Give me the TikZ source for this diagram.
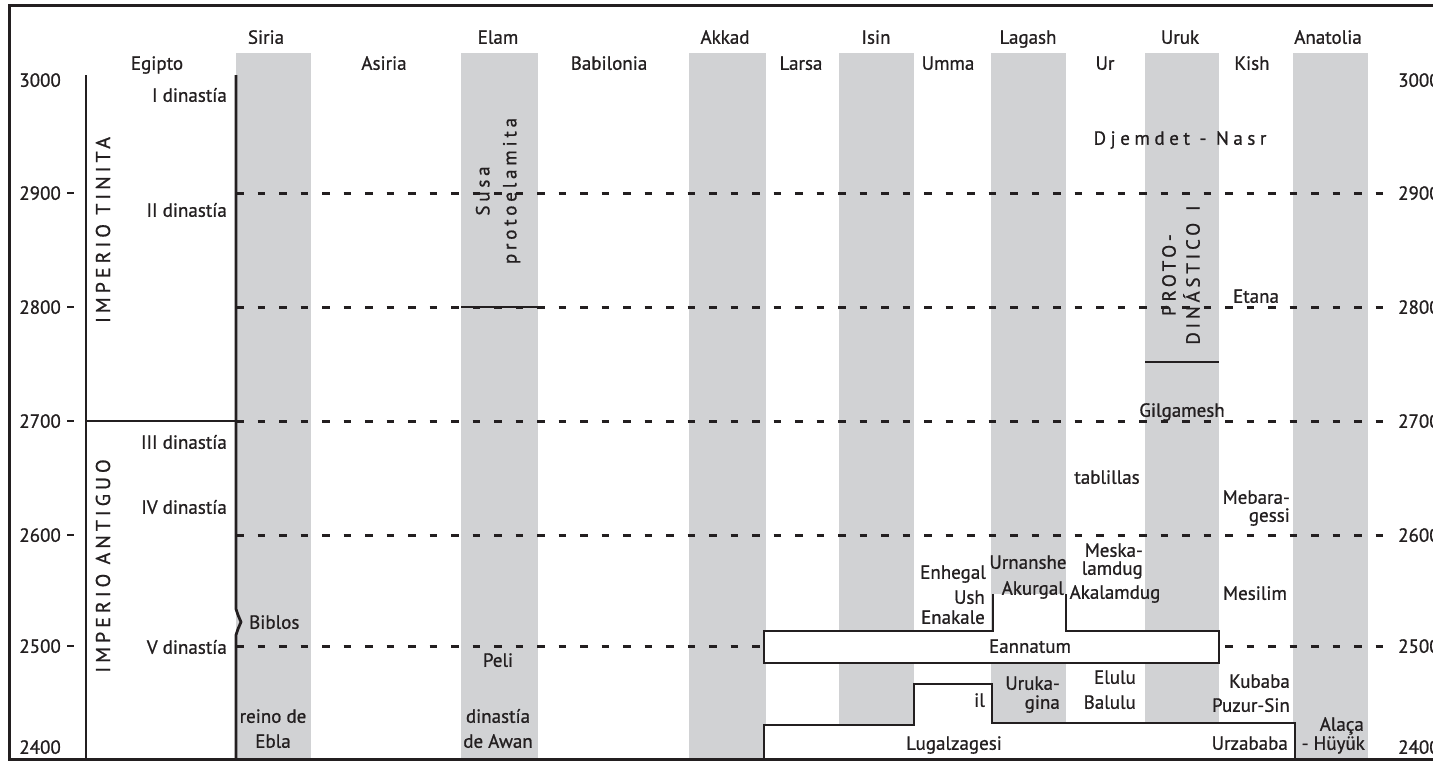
\documentclass[tikz,border=0pt]{standalone}
\usepackage{fontspec}
\setmainfont[FakeBold=0.9]{PT Sans}
\definecolor{colgray}{HTML}{D1D2D4}
\definecolor{ink}{HTML}{231F20}
\begin{document}
\begin{tikzpicture}[x=1pt,y=-1pt,
  lbl/.style={font=\fontsize{19}{21}\selectfont, text=ink, inner sep=0pt, text height=13.5pt, text depth=0pt},
  spaced/.style={font=\fontsize{19}{24}\selectfont\addfontfeature{LetterSpace=20}, text=ink, inner sep=0pt, align=center},
  solidline/.style={draw=ink, line width=2.8pt},
  dashline/.style={draw=ink, line width=3pt, dash pattern=on 7.5pt off 14pt},
  boxline/.style={draw=ink, line width=2.6pt, line join=miter},
  ticklbl/.style={font=\fontsize{19}{21}\selectfont, text=ink, inner sep=0pt, text height=13.5pt, text depth=0pt}
]
\useasboundingbox (0,0) rectangle (1433,761);
\fill[white] (0,0) rectangle (1433,761);
% gray columns
\foreach \a/\b in {236/311, 461/538, 689/766, 839/914, 991/1066, 1145/1219, 1293/1368}
  \fill[colgray] (\a,53) rectangle (\b,759);
% dashed year lines
\foreach \y in {193,307,421,535,646} {
  \draw[dashline] (236,\y) -- (1383,\y);
  \draw[solidline] (67,\y) -- (74,\y);
}
% frame
\draw[ink, line width=3pt] (1445,5) -- (9,5) -- (9,759) -- (1445,759);
% Egypt structure
\draw[solidline] (86,75) -- (86,759);
\draw[solidline, line join=round] (236,75) -- (236,609) -- (238,615) -- (241,622) -- (238,629) -- (236,635) -- (236,759);
\draw[solidline] (86,421) -- (236,421);
% Elam and Uruk boundaries
\draw[solidline] (461,307) -- (542,307);
\draw[solidline] (1145,362) -- (1219,362);
% Eannatum shape
\fill[white] (993,594) -- (993,631) -- (764,631) -- (764,663) -- (1219,663) -- (1219,631) -- (1066,631) -- (1066,594) -- cycle;
\draw[boxline] (993,594) -- (993,631) -- (764,631) -- (764,663) -- (1219,663) -- (1219,631) -- (1066,631) -- (1066,594);
% Lugalzagesi shape
\fill[white] (764,759) -- (764,725) -- (914,725) -- (914,684) -- (992,684) -- (992,723) -- (1295,723) -- (1295,759) -- cycle;
\draw[boxline] (764,759) -- (764,725) -- (914,725) -- (914,684) -- (992,684) -- (992,723) -- (1295,723) -- (1295,759);
\draw[ink, line width=3pt] (700,759) -- (1445,759);

% year labels left
\node[ticklbl, anchor=east] (l3000) at (61,80) {3000};
\node[ticklbl, anchor=east] (l2900) at (61,193) {2900};
\node[ticklbl, anchor=east] (l2800) at (61,307) {2800};
\node[ticklbl, anchor=east] (l2700) at (61,421) {2700};
\node[ticklbl, anchor=east] (l2600) at (61,535) {2600};
\node[ticklbl, anchor=east] (l2500) at (61,646) {2500};
\node[ticklbl, anchor=east] (l2400) at (61,747) {2400};
% year labels right
\node[ticklbl, anchor=west] (r3000) at (1398,80) {3000};
\node[ticklbl, anchor=west] (r2900) at (1398,193) {2900};
\node[ticklbl, anchor=west] (r2800) at (1398,307) {2800};
\node[ticklbl, anchor=west] (r2700) at (1398,421) {2700};
\node[ticklbl, anchor=west] (r2600) at (1398,535) {2600};
\node[ticklbl, anchor=west] (r2500) at (1398,646) {2500};
\node[ticklbl, anchor=west] (r2400) at (1398,747) {2400};

% column headers
\node[lbl] (siria) at (266,37) {Siria};
\node[lbl] (elam) at (498,37) {Elam};
\node[lbl] (akkad) at (725,37) {Akkad};
\node[lbl] (isin) at (876,37) {Isin};
\node[lbl] (lagash) at (1028,37) {Lagash};
\node[lbl] (uruk) at (1180,37) {Uruk};
\node[lbl] (anatolia) at (1328,37) {Anatolia};
\node[lbl] (egipto) at (157,63) {Egipto};
\node[lbl] (asiria) at (384,63) {Asiria};
\node[lbl] (babilonia) at (609,63) {Babilonia};
\node[lbl] (larsa) at (801,63) {Larsa};
\node[lbl] (umma) at (948,63) {Umma};
\node[lbl] (ur) at (1105,63) {Ur};
\node[lbl] (kish) at (1252,63) {Kish};

% Egypt
\node[spaced, font=\fontsize{20}{24}\selectfont\addfontfeature{LetterSpace=20}, rotate=90] (tinita) at (103,230) {IMPERIO TINITA};
\node[spaced, font=\fontsize{20}{24}\selectfont\addfontfeature{LetterSpace=20}, rotate=90] (antiguo) at (103,566) {IMPERIO ANTIGUO};
\node[lbl, anchor=east] (d1) at (227,95) {I dinastía};
\node[lbl, anchor=east] (d2) at (227,210) {II dinastía};
\node[lbl, anchor=east] (d3) at (227,442) {III dinastía};
\node[lbl, anchor=east] (d4) at (227,507) {IV dinastía};
\node[lbl, anchor=east] (d5) at (227,647) {V dinastía};

% Siria
\node[lbl, anchor=west] (biblos) at (249,622) {Biblos};
\node[lbl] (reino) at (273,716) {reino de};
\node[lbl] (ebla) at (273,741) {Ebla};

% Elam
\node[spaced, font=\fontsize{19}{27}\selectfont\addfontfeature{LetterSpace=20}, rotate=90] (susa) at (498,191) {Susa\\protoelamita};
\node[lbl] (peli) at (498,660) {Peli};
\node[lbl] (dinawan) at (498,716) {dinastía};
\node[lbl] (awan) at (498,741) {de Awan};

% Uruk / Kish area
\node[spaced, font=\fontsize{19}{24}\selectfont\addfontfeature{LetterSpace=24}] (djemdet) at (1180,140) {Djemdet - Nasr};
\node[spaced, rotate=90] (proto) at (1181,275) {PROTO-\\DINÁSTICO\hspace{3pt} I};
\node[lbl] (etana) at (1256,296) {Etana};
\node[lbl] (gilga) at (1182,410) {Gilgamesh};
\node[lbl] (tablillas) at (1107,477) {tablillas};
\node[lbl, anchor=east] (mebara) at (1290,497) {Mebara-};
\node[lbl, anchor=east] (gessi) at (1290,515) {gessi};
\node[lbl, anchor=east] (meska) at (1143,550) {Meska-};
\node[lbl, anchor=east] (lamdug) at (1143,568) {lamdug};
\node[lbl] (akalamdug) at (1115,592) {Akalamdug};
\node[lbl] (mesilim) at (1255,593) {Mesilim};

% Lagash / Umma
\node[lbl] (urnanshe) at (1028,562) {Urnanshe};
\node[lbl, anchor=east] (akurgal) at (1064,588) {Akurgal};
\node[lbl, anchor=east] (enhegal) at (986,572) {Enhegal};
\node[lbl, anchor=east] (ush) at (985,597) {Ush};
\node[lbl, anchor=east] (enakale) at (985,617) {Enakale};
\node[lbl] (eannatum) at (1030,646) {Eannatum};

% lower row
\node[lbl, anchor=east] (il) at (985,700) {il};
\node[lbl, anchor=east] (uruka) at (1060,683) {Uruka-};
\node[lbl, anchor=east] (gina) at (1060,702) {gina};
\node[lbl, anchor=east] (elulu) at (1136,677) {Elulu};
\node[lbl, anchor=east] (balulu) at (1136,702) {Balulu};
\node[lbl, anchor=east] (kubaba) at (1290,681) {Kubaba};
\node[lbl, anchor=east] (puzur) at (1290,705) {Puzur-Sin};
\node[lbl] (lugal) at (954,743) {Lugalzagesi};
\node[lbl, anchor=east] (urzababa) at (1288,743) {Urzababa};
\node[lbl, anchor=east] (alaca) at (1364,724) {Alaça};
\node[lbl, anchor=east] (huyuk) at (1365,743) {- Hüyük};
\end{tikzpicture}
\end{document}
